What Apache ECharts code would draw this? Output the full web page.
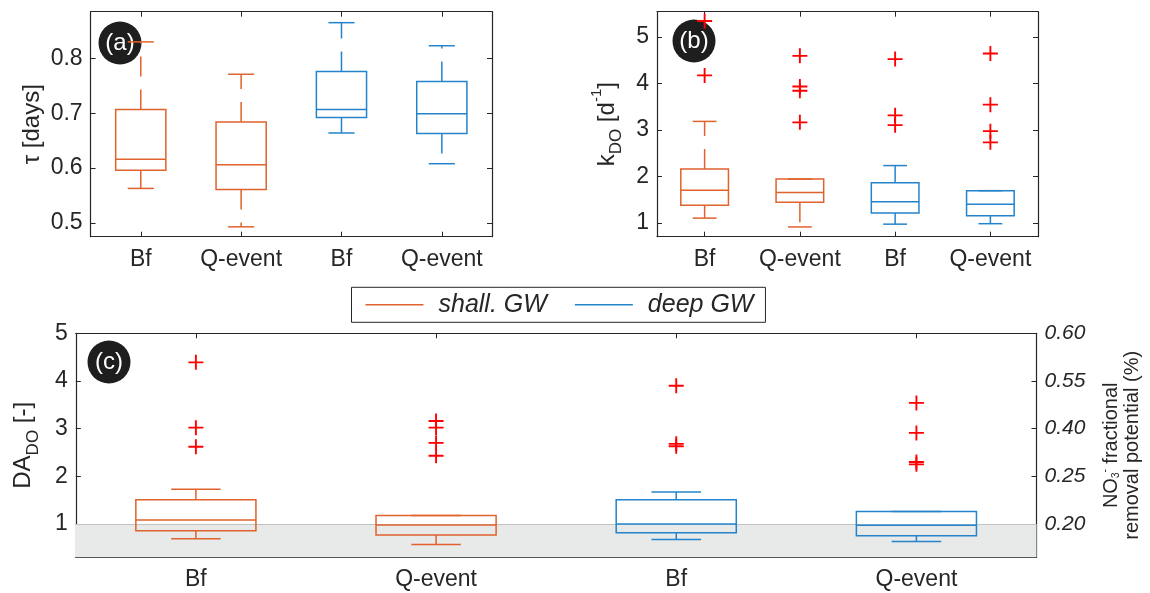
<!DOCTYPE html>
<html>
<head>
<meta charset="utf-8">
<script src="https://cdn.jsdelivr.net/npm/echarts@6/dist/echarts.min.js"></script>
<style>
  html, body { margin: 0; padding: 0; background: #fff; }
  #main { width: 1150px; height: 593px; }
</style>
</head>
<body>
<div id="main"></div>
<script>
// categories on every panel, shallow GW boxes at 1-2, deep GW boxes at 3-4
var cats = ['Bf', 'Q-event', 'Bf', 'Q-event'];
var catPos = [1, 2, 3, 4];
var shallPos = [1, 2];
var deepPos = [3, 4];

// box stats: [lower whisker, Q1, median, Q3, upper whisker]
var tauShall = [[0.563, 0.596, 0.616, 0.707, 0.830], [0.493, 0.561, 0.606, 0.684, 0.771]];
var tauDeep  = [[0.664, 0.692, 0.707, 0.776, 0.865], [0.608, 0.663, 0.699, 0.758, 0.823]];

var kShall = [[1.10, 1.376, 1.70, 2.157, 3.18], [0.91, 1.44, 1.65, 1.94, 1.94]];
var kDeep  = [[0.97, 1.21, 1.45, 1.86, 2.23], [0.98, 1.15, 1.40, 1.69, 1.69]];
var kShallOut = [[4.17, 5.34], [4.59, 3.93, 3.84, 3.16]];
var kDeepOut  = [[4.52, 3.31, 3.10], [4.64, 3.54, 2.97, 2.73]];

var daShall = [[0.69, 0.858, 1.085, 1.507, 1.73], [0.57, 0.767, 0.98, 1.175, 1.175]];
var daDeep  = [[0.675, 0.816, 1.00, 1.51, 1.67], [0.63, 0.753, 0.97, 1.26, 1.26]];
var daShallOut = [[4.39, 3.02, 2.62], [3.16, 3.02, 2.70, 2.43]];
var daDeepOut  = [[3.90, 2.68, 2.63], [3.54, 2.91, 2.30, 2.25]];

// tick labels
var tauTicks = [0.5, 0.6, 0.7, 0.8];
var kTicks = [1, 2, 3, 4, 5];
var daTicks = [1, 2, 3, 4, 5];
var daRightLabels = ['0.20', '0.25', '0.40', '0.55', '0.60'];
var daLimit = [0.3, 1];   // grey band DA < 1

var ORANGE = '#e0622c';
var BLUE = '#2384cc';
var AX = '#262626';
var FONT = '"Liberation Sans", Arial, sans-serif';
var PLUS = 'path://M0,7H16V9H0Z M7,0H9V16H7Z';

function boxRows(pos, stats) {
	return pos.map(function (p, i) { return [p].concat(stats[i]); });
}
function outRows(pos, outs) {
	var rows = [];
	pos.forEach(function (p, i) {
		outs[i].forEach(function (v) { rows.push([p, v]); });
	});
	return rows;
}

function boxRenderer(color, hw, cw) {
	return function (params, api) {
		var x = api.value(0);
		var lo = api.value(1), q1 = api.value(2), md = api.value(3), q3 = api.value(4), hi = api.value(5);
		var tl = api.coord([x - hw, q3]);
		var br = api.coord([x + hw, q1]);
		var seg = function (x1, y1, x2, y2, dash) {
			var a = api.coord([x1, y1]), b = api.coord([x2, y2]);
			return {
				type: 'line',
				shape: { x1: a[0], y1: a[1], x2: b[0], y2: b[1] },
				style: { stroke: color, lineWidth: 1.5, lineDash: dash ? [20, 13] : null }
			};
		};
		return {
			type: 'group',
			children: [
				{ type: 'rect', shape: { x: tl[0], y: tl[1], width: br[0] - tl[0], height: br[1] - tl[1] },
				  style: { fill: 'none', stroke: color, lineWidth: 1.5 } },
				seg(x - hw, md, x + hw, md),
				seg(x, q3, x, hi, true),
				seg(x, q1, x, lo, true),
				seg(x - cw, hi, x + cw, hi),
				seg(x - cw, lo, x + cw, lo)
			]
		};
	};
}

function tick(vals) {
	return { show: true, inside: true, length: 5, customValues: vals, lineStyle: { color: AX, width: 1 } };
}
function axLine() {
	return { show: true, onZero: false, lineStyle: { color: AX, width: 1.2 } };
}

function xAxes(g) {
	return [{
		type: 'value', gridIndex: g, position: 'bottom', min: 0.5, max: 4.5,
		axisLine: axLine(), axisTick: tick(catPos), splitLine: { show: false },
		axisLabel: {
			customValues: catPos, margin: 11, fontSize: 23, color: AX, fontFamily: FONT,
			formatter: function (v) { return cats[Math.round(v) - 1]; }
		}
	}, {
		type: 'value', gridIndex: g, position: 'top', min: 0.5, max: 4.5,
		axisLine: axLine(), axisTick: tick(catPos), splitLine: { show: false },
		axisLabel: { show: false }
	}];
}

function yAxes(g, min, max, ticks, name, nameGap, rich) {
	return [{
		type: 'value', gridIndex: g, position: 'left', min: min, max: max,
		axisLine: axLine(), axisTick: tick(ticks), splitLine: { show: false },
		axisLabel: { customValues: ticks, margin: 8, fontSize: 23, color: AX, fontFamily: FONT },
		name: name, nameLocation: 'middle', nameRotate: 90, nameGap: nameGap,
		nameTextStyle: { fontSize: 24, color: AX, fontFamily: FONT, rich: rich }
	}, {
		type: 'value', gridIndex: g, position: 'right', min: min, max: max,
		axisLine: axLine(), axisTick: tick(ticks), splitLine: { show: false },
		axisLabel: { show: false }
	}];
}

var subRich = {
	t: { fontSize: 24, lineHeight: 36, color: AX, fontFamily: FONT },
	sub: { fontSize: 17, lineHeight: 17, verticalAlign: 'bottom', color: AX, fontFamily: FONT },
	sup: { fontSize: 15, lineHeight: 15, verticalAlign: 'top', color: AX, fontFamily: FONT }
};

var xAxis = [].concat(xAxes(0), xAxes(1), xAxes(2));
var yAxis = [].concat(
	yAxes(0, 0.475, 0.885, tauTicks, '{t|τ [days]}', 40, subRich),
	yAxes(1, 0.7, 5.54, kTicks, '{t|k}{sub|DO}{t| [d}{sup|-1}{t|]}', 32, subRich),
	yAxes(2, 0.3, 5, daTicks, '{t|DA}{sub|DO}{t| [-]}', 34, subRich)
);
// right axis of (c) carries the NO3- removal labels
yAxis[5].axisLabel = {
	customValues: daTicks, margin: 8, fontSize: 21, fontStyle: 'italic', color: AX, fontFamily: FONT,
	formatter: function (v) { return daRightLabels[Math.round(v) - 1]; }
};
yAxis[5].name = '{r|NO}{sb|3}{sp|-}{r| fractional}\n{r|removal potential (%)}';
yAxis[5].nameLocation = 'middle';
yAxis[5].nameRotate = 90;
yAxis[5].nameGap = 64;
yAxis[5].nameTextStyle = {
	color: AX, fontFamily: FONT,
	rich: {
		r: { fontSize: 20, lineHeight: 21, color: AX, fontFamily: FONT },
		sb: { fontSize: 10, lineHeight: 10, verticalAlign: 'bottom', color: AX, fontFamily: FONT },
		sp: { fontSize: 10, lineHeight: 10, verticalAlign: 'top', color: AX, fontFamily: FONT }
	}
};

function boxSeries(name, g, rows, color, cw) {
	return {
		name: name, type: 'custom', xAxisIndex: 2 * g, yAxisIndex: 2 * g, z: 3, silent: true,
		renderItem: boxRenderer(color, 0.25, cw),
		encode: { x: 0, y: [1, 2, 3, 4, 5] },
		data: rows
	};
}
function outSeries(g, rows) {
	return {
		type: 'scatter', xAxisIndex: 2 * g, yAxisIndex: 2 * g, z: 4, silent: true,
		symbol: PLUS, symbolSize: 15, itemStyle: { color: '#ff0000', opacity: 1 },
		data: rows
	};
}

var shadeSeries = outSeries(2, outRows(shallPos, daShallOut).concat(outRows(deepPos, daDeepOut)));
shadeSeries.markArea = {
	silent: true,
	itemStyle: { color: '#e8e9e9' },
	data: [[{ yAxis: daLimit[0] }, { yAxis: daLimit[1] }]]
};
shadeSeries.markLine = {
	silent: true, z: 2, symbol: ['none', 'none'],
	label: { show: false },
	lineStyle: { color: '#c2c2c2', type: 'solid', width: 1 },
	data: [{ yAxis: daLimit[1] }]
};

var series = [
	boxSeries('shall. GW', 0, boxRows(shallPos, tauShall), ORANGE, 0.13),
	boxSeries('deep GW', 0, boxRows(deepPos, tauDeep), BLUE, 0.13),
	boxSeries('shall. GW', 1, boxRows(shallPos, kShall), ORANGE, 0.125),
	boxSeries('deep GW', 1, boxRows(deepPos, kDeep), BLUE, 0.125),
	outSeries(1, outRows(shallPos, kShallOut).concat(outRows(deepPos, kDeepOut))),
	boxSeries('shall. GW', 2, boxRows(shallPos, daShall), ORANGE, 0.103),
	boxSeries('deep GW', 2, boxRows(deepPos, daDeep), BLUE, 0.103),
	shadeSeries
];

function badge(txt, cx, cy) {
	return {
		type: 'group', x: cx, y: cy, z: 100,
		children: [
			{ type: 'circle', shape: { cx: 0, cy: 0, r: 21.5 }, style: { fill: '#1e1e1e' } },
			{ type: 'text', style: { text: txt, x: 0, y: 0, align: 'center', verticalAlign: 'middle',
				fill: '#fff', fontSize: 24, fontFamily: FONT } }
		]
	};
}

var chart = echarts.init(document.getElementById('main'));
chart.setOption({
	animation: false,
	backgroundColor: '#fff',
	grid: [
		{ left: 90.6, top: 11.7, width: 401.4, height: 225 },
		{ left: 657, top: 11.7, width: 381, height: 225 },
		{ left: 75.8, top: 333.3, width: 962.2, height: 224 }
	],
	legend: {
		left: 351.5, top: 287.3,
		padding: [5, 12, 5, 14],
		borderColor: AX, borderWidth: 1,
		itemWidth: 58, itemHeight: 1.5, itemGap: 28,
		icon: 'rect', selectedMode: false,
		textStyle: { fontSize: 25, fontStyle: 'italic', color: AX, fontFamily: FONT, padding: [0, 0, 0, 10] },
		data: [
			{ name: 'shall. GW', itemStyle: { color: ORANGE } },
			{ name: 'deep GW', itemStyle: { color: BLUE } }
		]
	},
	xAxis: xAxis,
	yAxis: yAxis,
	series: series,
	graphic: [
		badge('(a)', 120, 43),
		badge('(b)', 694, 41),
		badge('(c)', 109, 362)
	]
});
</script>
</body>
</html>
